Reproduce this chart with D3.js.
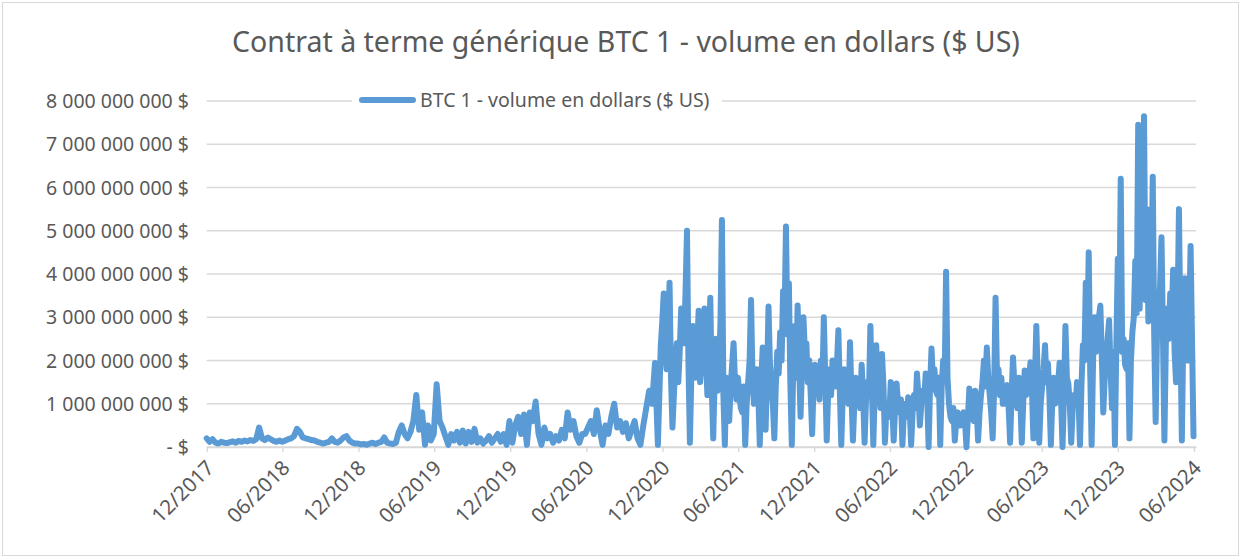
<!DOCTYPE html>
<html>
<head>
<meta charset="utf-8">
<script src="https://cdn.jsdelivr.net/npm/d3@7"></script>
<style>
  body { margin: 0; background: #fff; }
  text { font-family: "Noto Sans", sans-serif; fill: #595959; }
</style>
</head>
<body>
<svg id="chart" width="1241" height="557"></svg>
<script>
const title = "Contrat à terme générique BTC 1 - volume en dollars ($ US)";
const seriesName = "BTC 1 - volume en dollars ($ US)";

// volume in billions of US dollars, first point on 2017-12-18.
// one array per half-year (26 weeks): weekly points until 06/2020,
// two points a week from 12/2020 on
const firstWeek = "2017-12-18";
const volDec2017 = [0.2,0.12,0.18,0.1,0.08,0.12,0.1,0.09,0.11,0.13,0.1,0.14,0.12,0.15,0.13,0.16,0.14,0.18,0.45,0.2,0.16,0.22,0.18,0.14,0.12,0.15];
const volJun2018 = [0.12,0.15,0.18,0.2,0.25,0.42,0.35,0.22,0.2,0.18,0.16,0.15,0.12,0.1,0.08,0.1,0.12,0.2,0.12,0.1,0.15,0.22,0.25,0.15,0.1,0.08];
const volDec2018 = [0.08,0.06,0.07,0.05,0.08,0.1,0.07,0.1,0.12,0.22,0.1,0.08,0.07,0.1,0.35,0.5,0.3,0.2,0.35,0.6,1.2,0.4,0.8,0.05,0.5,0.15];
const volJun2019 = [0.3,1.45,0.6,0.45,0.25,0.05,0.3,0.15,0.35,0.1,0.38,0.08,0.35,0.12,0.42,0.1,0.2,0.08,0.15,0.25,0.1,0.2,0.3,0.12,0.3,0.05];
const volDec2019 = [0.6,0.1,0.5,0.7,0.3,0.75,0.05,0.8,0.6,1.05,0.3,0.05,0.45,0.2,0.3,0.1,0.25,0.15,0.4,0.2,0.8,0.4,0.6,0.25,0.1,0.3];
const volJun2020 = [0.3,0.45,0.6,0.3,0.85,0.4,0.05,0.5,0.3,0.7,1.0,0.45,0.6,0.35,0.55,0.2,0.4,0.6,0.2,0.05,0.5,0.9,1.3,1.0,1.94,0.05];
const volDec2020 = [2.35,2.9,3.55,2.2,1.8,2.6,3.8,1.6,0.45,1.2,2.0,2.4,1.5,2.2,3.2,2.6,2.4,3.6,5.0,1.9,0.1,1.7,2.8,2.0,1.6,2.3,
                    3.15,1.5,2.0,2.6,3.2,2.1,1.2,2.2,3.45,1.4,0.2,1.6,2.5,1.3,1.8,2.9,5.25,1.2,0.05,1.6,1.0,0.6,1.4,1.9,2.4,1.5];
const volJun2021 = [1.1,1.6,1.2,0.9,0.8,1.4,0.05,1.0,1.5,2.0,3.4,1.6,1.0,1.5,1.8,1.2,0.05,1.5,2.3,1.8,0.4,1.6,3.25,1.9,1.4,1.0,
                    0.2,1.4,2.2,1.7,2.65,2.0,3.6,2.9,5.1,2.6,3.78,1.5,0.05,1.8,2.8,1.6,3.27,2.0,0.7,1.8,3.0,2.2,2.4,1.5,2.0,1.2];
const volDec2021 = [0.3,1.5,1.9,1.3,1.6,1.1,2.0,1.4,3.0,1.6,0.15,1.3,1.8,1.2,2.0,1.5,1.4,1.9,2.7,1.3,0.05,1.2,1.8,1.4,1.5,1.0,
                    2.42,1.2,0.15,1.0,1.6,1.3,1.2,0.9,1.9,1.2,0.1,1.1,1.5,1.2,2.8,1.4,0.05,1.3,2.35,1.5,1.3,0.9,2.15,1.4,0.1,0.9];
const volJun2022 = [1.0,0.7,1.5,1.0,0.15,0.9,1.47,1.0,0.8,1.1,0.05,0.8,1.0,0.7,1.15,0.9,0.05,0.8,1.2,0.9,1.7,1.2,0.5,1.0,1.3,1.1,
                    1.7,1.2,0.0,1.4,2.28,1.5,1.8,1.3,1.2,1.6,0.05,1.4,2.0,1.5,4.05,1.6,1.0,0.7,0.6,0.9,0.15,0.6,0.8,0.5,0.5,0.7];
const volDec2022 = [0.8,0.6,0.0,0.7,1.35,0.9,0.8,0.6,1.3,0.9,0.15,0.8,1.2,1.5,2.0,1.4,2.3,1.6,1.2,0.8,0.2,1.3,3.45,1.6,1.8,1.2,
                    1.6,1.0,1.0,1.3,1.43,0.9,0.1,1.2,2.07,1.4,1.2,0.9,1.6,1.1,0.1,1.0,1.77,1.2,1.3,1.6,1.96,1.3,0.2,1.5,2.8,1.6];
const volJun2023 = [0.1,1.0,1.4,1.8,2.35,1.5,1.93,1.2,0.05,1.1,1.6,1.0,1.2,1.5,1.95,1.1,0.0,1.2,2.8,1.6,1.47,1.0,0.1,0.9,1.2,1.0,
                    1.5,1.1,0.05,1.4,2.35,2.0,3.8,2.4,4.5,1.8,0.05,2.0,3.0,2.2,2.5,3.0,3.27,2.1,0.8,1.6,2.0,2.5,2.93,1.8,0.9,2.2];
const volDec2023 = [0.05,2.4,4.35,2.8,6.2,2.2,2.5,1.9,1.8,2.4,0.2,2.0,2.65,3.0,4.3,3.1,7.45,3.2,5.0,3.5,7.65,3.4,5.5,2.9,3.0,3.6,
                    6.25,2.6,0.58,2.8,3.2,3.7,4.85,2.6,0.15,2.4,3.2,2.5,3.55,2.9,4.1,2.2,1.5,3.0,5.5,2.6,0.15,2.7,3.9,3.2,2.0,2.8];
const volJun2024 = [4.65,0.25];

const periods = [volDec2017, volJun2018, volDec2018, volJun2019, volDec2019, volJun2020,
    volDec2020, volJun2021, volDec2021, volJun2022, volDec2022, volJun2023, volDec2023, volJun2024];

const yTicks = [0, 1, 2, 3, 4, 5, 6, 7, 8]; // billions
const xTickLabels = ["12/2017","06/2018","12/2018","06/2019","12/2019","06/2020","12/2020",
                     "06/2021","12/2021","06/2022","12/2022","06/2023","12/2023","06/2024"];

const width = 1241, height = 557;
const plot = {left: 206.7, right: 1196, top: 101, bottom: 447};
const blue = "#5b9bd5", grid = "#d9d9d9";

const parseDay = d3.timeParse("%Y-%m-%d");
const parseMonth = d3.timeParse("%m/%Y");
const start = parseDay(firstWeek);

// each period covers 182 days; points spread evenly (weekly or twice a week)
const data = [];
periods.forEach((vals, p) => {
    const step = vals.length >= 52 ? 3.5 : 7;
    vals.forEach((v, i) => {
        const hours = (p * 182 + i * step) * 24;
        data.push({date: d3.timeHour.offset(start, hours), value: v * 1e9});
    });
});

// ticks sit on the same day of month as the first data point
const tickDates = xTickLabels.map(l => d3.timeDay.offset(parseMonth(l), start.getDate() - 1));

const x = d3.scaleTime()
    .domain([start, d3.timeDay.offset(start, 2379)])
    .range([plot.left, plot.right]);

const y = d3.scaleLinear()
    .domain([0, 8e9])
    .range([plot.bottom, plot.top]);

const svg = d3.select("#chart");

svg.append("rect")
    .attr("x", 2.5).attr("y", 2.5)
    .attr("width", width - 5).attr("height", height - 4)
    .attr("fill", "#fff")
    .attr("stroke", grid);

svg.append("text")
    .attr("x", 626)
    .attr("y", 52)
    .attr("text-anchor", "middle")
    .style("font-size", "28.5px")
    .text(title);

// gridlines + y labels
const fmt = v => v === 0 ? "- $" : d3.format(",")(v).replace(/,/g, " ") + " $";

svg.append("g")
    .selectAll("line")
    .data(yTicks)
    .join("line")
        .attr("x1", plot.left)
        .attr("x2", plot.right)
        .attr("y1", d => y(d * 1e9))
        .attr("y2", d => y(d * 1e9))
        .attr("stroke", grid)
        .attr("stroke-width", 1.4);

svg.append("g")
    .selectAll("text")
    .data(yTicks)
    .join("text")
        .attr("x", 189)
        .attr("y", d => y(d * 1e9))
        .attr("dy", "0.36em")
        .attr("text-anchor", "end")
        .style("font-size", "19.5px")
        .text(d => fmt(d * 1e9));

// x axis
const xAxis = svg.append("g")
    .attr("transform", `translate(0,${plot.bottom})`)
    .call(d3.axisBottom(x)
        .tickValues(tickDates)
        .tickFormat(d3.timeFormat("%m/%Y"))
        .tickSize(5)
        .tickSizeOuter(0));

xAxis.select(".domain").attr("stroke", grid).attr("stroke-width", 1.4);
xAxis.selectAll(".tick line").attr("stroke", grid).attr("stroke-width", 1.4);
xAxis.selectAll(".tick text")
    .attr("x", 0).attr("y", 0).attr("dy", "0.35em")
    .attr("transform", "translate(3,17) rotate(-45)")
    .attr("text-anchor", "end")
    .style("font-size", "20.5px")
    .attr("fill", null);

// series
const line = d3.line()
    .x(d => x(d.date))
    .y(d => y(d.value));

svg.append("path")
    .datum(data)
    .attr("fill", "none")
    .attr("stroke", blue)
    .attr("stroke-width", 6)
    .attr("stroke-linejoin", "round")
    .attr("stroke-linecap", "round")
    .attr("d", line);

// legend
const legend = svg.append("g").attr("transform", `translate(0,${plot.top})`);
legend.append("rect")
    .attr("x", 352).attr("y", -13)
    .attr("width", 370).attr("height", 26)
    .attr("fill", "#fff");
legend.append("line")
    .attr("x1", 362).attr("x2", 413)
    .attr("y1", -1).attr("y2", -1)
    .attr("stroke", blue)
    .attr("stroke-width", 6)
    .attr("stroke-linecap", "round");
legend.append("text")
    .attr("x", 420)
    .attr("y", -1)
    .attr("dy", "0.36em")
    .style("font-size", "19.5px")
    .text(seriesName);
</script>
</body>
</html>
